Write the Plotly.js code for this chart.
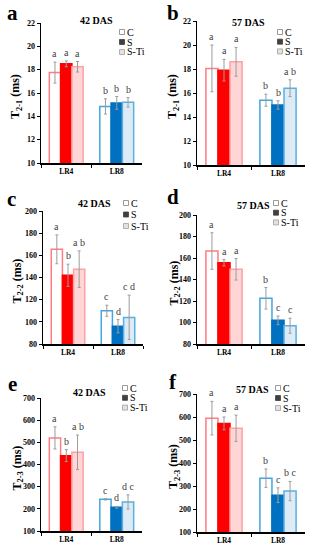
<!DOCTYPE html>
<html><head><meta charset="utf-8">
<script src="https://cdn.plot.ly/plotly-3.0.1.min.js"></script>
<style>html,body{margin:0;padding:0;background:#fff}#chart{width:311px;height:550px}</style>
</head><body><div id="chart"></div>
<script>
// ---------- data ----------
const groups = ['LR4', 'LR8'];
const treatments = ['C', 'S', 'S-Ti'];
const panelLetters = ['a', 'b', 'c', 'd', 'e', 'f'];
const panelTitles = ['42 DAS', '57 DAS', '42 DAS', '57 DAS', '42 DAS', '57 DAS'];
const yTitles = ['T<sub>2-1</sub> (ms)', 'T<sub>2-1</sub> (ms)', 'T<sub>2-2</sub> (ms)', 'T<sub>2-2</sub> (ms)', 'T<sub>2-3</sub> (ms)', 'T<sub>2-3</sub> (ms)'];

// panel a : T2-1, 42 DAS
const a_C = [17.75, 14.85], a_S = [18.5, 15.15], a_STi = [18.25, 15.2];
const a_C_err = [0.9, 0.65], a_S_err = [0.25, 0.55], a_STi_err = [0.45, 0.4];
const a_C_sig = ['a', 'b'], a_S_sig = ['a', 'b'], a_STi_sig = ['a', 'b'];
// panel b : T2-1, 57 DAS
const b_C = [18.05, 15.4], b_S = [17.9, 15.0], b_STi = [18.6, 16.4];
const b_C_err = [1.95, 0.5], b_S_err = [0.9, 0.35], b_STi_err = [1.2, 0.7];
const b_C_sig = ['a', 'b'], b_S_sig = ['a', 'b'], b_STi_sig = ['a', 'a b'];
// panel c : T2-2, 42 DAS
const c_C = [165.4, 110], c_S = [142, 96], c_STi = [147.5, 104];
const c_C_err = [13, 5], c_S_err = [10, 6], c_STi_err = [16.5, 20];
const c_C_sig = ['a', 'c'], c_S_sig = ['b', 'd'], c_STi_sig = ['a b', 'c d'];
// panel d : T2-2, 57 DAS
const d_C = [166.5, 122.5], d_S = [155.5, 102], d_STi = [149.5, 97];
const d_C_err = [17, 10], d_S_err = [3, 4], d_STi_err = [10, 7];
const d_C_sig = ['a', 'b'], d_S_sig = ['a', 'c'], d_STi_sig = ['a', 'c'];
// panel e : T2-3, 42 DAS
const e_C = [520, 243], e_S = [440, 207], e_STi = [455, 231];
const e_C_err = [50, 3], e_S_err = [27, 4], e_STi_err = [78, 32];
const e_C_sig = ['a', 'c'], e_S_sig = ['b', 'd'], e_STi_sig = ['a b', 'd c'];
// panel f : T2-3, 57 DAS
const f_C = [595, 334], f_S = [572, 260], f_STi = [551, 278];
const f_C_err = [73, 40], f_S_err = [28, 32], f_STi_err = [57, 42];
const f_C_sig = ['a', 'b'], f_S_sig = ['a', 'c'], f_STi_sig = ['a', 'b c'];

const yRanges = [[10, 22], [10, 22], [80, 200], [80, 200], [100, 700], [100, 700]];
const yDticks = [2, 2, 20, 20, 100, 100];

const means = [[a_C, a_S, a_STi], [b_C, b_S, b_STi], [c_C, c_S, c_STi], [d_C, d_S, d_STi], [e_C, e_S, e_STi], [f_C, f_S, f_STi]];
const errs = [[a_C_err, a_S_err, a_STi_err], [b_C_err, b_S_err, b_STi_err], [c_C_err, c_S_err, c_STi_err], [d_C_err, d_S_err, d_STi_err], [e_C_err, e_S_err, e_STi_err], [f_C_err, f_S_err, f_STi_err]];
const sigs = [[a_C_sig, a_S_sig, a_STi_sig], [b_C_sig, b_S_sig, b_STi_sig], [c_C_sig, c_S_sig, c_STi_sig], [d_C_sig, d_S_sig, d_STi_sig], [e_C_sig, e_S_sig, e_STi_sig], [f_C_sig, f_S_sig, f_STi_sig]];

// ---------- styles / layout geometry (pixels) ----------
const W = 311, H = 550;
const SERIF = '"Liberation Serif", "Times New Roman", serif';
const fillColors = [['#FFFFFF', '#FFFFFF'], ['#FF0000', '#0070C0'], ['#FFD6D6', '#DDEBF7']];
const lineColors = [['#FF7C80', '#45A5DD'], ['#FF0000', '#0070C0'], ['#FFA0A4', '#5AB0E0']];
const legFill = ['#FFFFFF', '#404040', '#E2E2E2'];
const legLine = ['#808080', '#404040', '#A0A0A0'];
const BARGAP = 0.33;

const geom = [
  {x0: 41, x1: 142, yTop: 23, yBot: 163, title: [96, 20], letter: [12, 13], ytx: 16, leg: [122, 32, 10]},
  {x0: 197, x1: 305, yTop: 21, yBot: 165, title: [248, 22], letter: [173, 13], ytx: 173, leg: [280, 32, 9.7]},
  {x0: 43, x1: 143, yTop: 211, yBot: 344, title: [94, 204], letter: [11, 199], ytx: 17, leg: [126, 203, 11.5]},
  {x0: 197, x1: 305, yTop: 215, yBot: 344, title: [253, 205], letter: [173, 197], ytx: 174, leg: [276, 203, 9.7]},
  {x0: 41, x1: 142, yTop: 398, yBot: 531, title: [89, 392], letter: [12, 384], ytx: 17, leg: [125, 388, 9.8]},
  {x0: 197, x1: 305, yTop: 394, yBot: 532, title: [252, 389], letter: [173, 382], ytx: 174, leg: [278, 388, 10]}
];
const px = x => x / W;
const py = y => 1 - y / H;

const data = [];
const layout = {
  width: W, height: H,
  margin: {l: 0, r: 0, t: 0, b: 0},
  paper_bgcolor: '#fff', plot_bgcolor: '#fff',
  barmode: 'group', bargap: BARGAP, bargroupgap: 0,
  showlegend: false,
  annotations: [], shapes: []
};

for (let i = 0; i < 6; i++) {
  const g = geom[i];
  const sfx = i === 0 ? '' : String(i + 1);
  const xa = 'x' + sfx, ya = 'y' + sfx;
  for (let t = 0; t < 3; t++) {
    data.push({
      type: 'bar', name: treatments[t], x: groups, y: means[i][t],
      xaxis: xa, yaxis: ya, hoverinfo: 'skip',
      marker: {color: fillColors[t], line: {color: lineColors[t], width: 1.5}},
      error_y: {type: 'data', array: errs[i][t], visible: true, color: '#9C9C9C', thickness: 1, width: 1.5}
    });
  }
  layout['xaxis' + sfx] = {
    domain: [px(g.x0), px(g.x1)], anchor: ya, type: 'category',
    showline: true, linecolor: '#000', linewidth: 1.5, mirror: false,
    ticks: 'outside', tickson: 'boundaries', ticklen: 3, tickcolor: '#000', tickwidth: 1,
    tickfont: {family: SERIF, size: 7.5, weight: 'bold', color: '#000'},
    showgrid: false, zeroline: false, fixedrange: true
  };
  layout['yaxis' + sfx] = {
    domain: [py(g.yBot), py(g.yTop)], anchor: xa, range: yRanges[i], dtick: yDticks[i],
    showline: true, linecolor: '#000', linewidth: 1.5,
    ticks: 'outside', ticklen: 3, tickcolor: '#000', tickwidth: 1,
    tickfont: {family: SERIF, size: 8, weight: 'bold', color: '#000'},
    showgrid: false, zeroline: false, fixedrange: true
  };
  // y title
  layout.annotations.push({
    xref: 'paper', yref: 'paper', x: px(g.ytx), y: py((g.yTop + g.yBot) / 2 + 4),
    text: '<b>' + yTitles[i] + '</b>', textangle: -90, showarrow: false,
    xanchor: 'center', yanchor: 'middle', borderpad: 0,
    font: {family: SERIF, size: 12, color: '#000'}
  });
  // panel title
  layout.annotations.push({
    xref: 'paper', yref: 'paper', x: px(g.title[0]), y: py(g.title[1]),
    text: '<b>' + panelTitles[i] + '</b>', showarrow: false, xanchor: 'center', yanchor: 'middle', borderpad: 0,
    font: {family: SERIF, size: 10, color: '#000'}
  });
  // panel letter
  layout.annotations.push({
    xref: 'paper', yref: 'paper', x: px(g.letter[0]), y: py(g.letter[1]),
    text: '<b>' + panelLetters[i] + '</b>', showarrow: false, xanchor: 'center', yanchor: 'middle', borderpad: 0,
    font: {family: SERIF, size: 21, color: '#000'}
  });
  // significance letters
  const catW = (g.x1 - g.x0) / groups.length;
  const barW = catW * (1 - BARGAP) / 3;
  for (let t = 0; t < 3; t++) {
    for (let k = 0; k < groups.length; k++) {
      layout.annotations.push({
        xref: xa, yref: ya, x: groups[k], y: means[i][t][k] + errs[i][t][k],
        xshift: (t - 1) * barW, yshift: 2, text: sigs[i][t][k], showarrow: false,
        xanchor: 'center', yanchor: 'bottom', borderpad: 0,
        font: {family: SERIF, size: 10, color: '#404040'}
      });
    }
  }
  // legend
  for (let t = 0; t < 3; t++) {
    const cx = g.leg[0], cy = g.leg[1] + t * g.leg[2];
    layout.shapes.push({
      type: 'rect', xref: 'paper', yref: 'paper',
      x0: px(cx - 2.5), x1: px(cx + 2.5), y0: py(cy + 2.5), y1: py(cy - 2.5),
      fillcolor: legFill[t], line: {color: legLine[t], width: 0.8}
    });
    layout.annotations.push({
      xref: 'paper', yref: 'paper', x: px(cx + 3.5), y: py(cy),
      text: treatments[t], showarrow: false, xanchor: 'left', yanchor: 'middle', borderpad: 0,
      font: {family: SERIF, size: 10, color: '#000'}
    });
  }
}

Plotly.newPlot('chart', data, layout, {displayModeBar: false, staticPlot: true});
</script>
</body></html>
